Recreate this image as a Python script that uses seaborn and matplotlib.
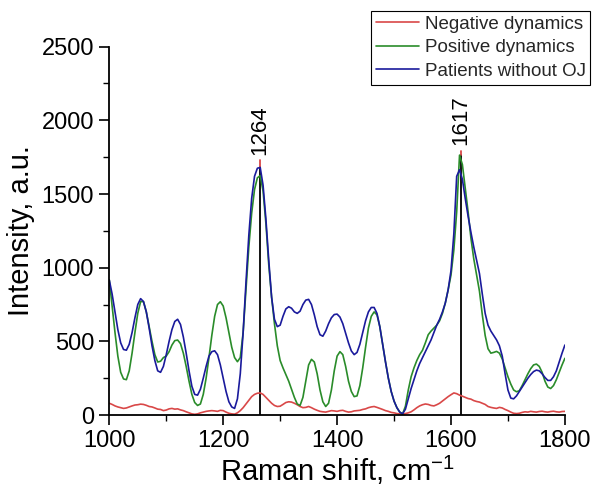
import numpy as np
import pandas as pd
import matplotlib
matplotlib.use("Agg")
import matplotlib.pyplot as plt
import seaborn as sns

# ---- data ----
raman_shift = np.arange(1000, 1801, 5)  # sampling grid, cm-1

negative = [80, 72, 62, 55, 50, 45, 48, 55, 62, 68,
            70, 74, 72, 66, 58, 55, 48, 40, 38, 30,
            34, 42, 45, 40, 42, 35, 30, 22, 15, 8,
            5, 8, 15, 20, 25, 28, 30, 28, 25, 32,
            30, 20, 12, 8, 6, 15, 30, 50, 75, 100,
            125, 140, 148, 150, 140, 120, 100, 80, 65, 58,
            60, 72, 85, 90, 88, 80, 70, 58, 50, 52,
            58, 50, 40, 32, 25, 22, 20, 25, 30, 28,
            25, 30, 32, 25, 20, 22, 28, 30, 32, 38,
            42, 50, 55, 58, 52, 45, 38, 30, 25, 18,
            15, 10, 8, 6, 10, 15, 22, 35, 50, 62,
            70, 75, 72, 65, 62, 70, 80, 95, 110, 125,
            138, 150, 145, 135, 128, 120, 112, 108, 98, 92,
            88, 80, 72, 58, 52, 48, 45, 52, 48, 38,
            30, 20, 12, 10, 12, 18, 22, 20, 25, 22,
            20, 24, 26, 22, 20, 24, 26, 22, 20, 24,
            25]

positive = [916, 740, 560, 400, 290, 245, 240, 300, 420, 560,
            690, 770, 770, 700, 600, 500, 410, 360, 365, 390,
            400, 430, 475, 505, 509, 485, 420, 330, 230, 140,
            85, 65, 75, 140, 250, 390, 540, 670, 750, 769,
            740, 660, 560, 460, 390, 362, 390, 560, 850, 1140,
            1370, 1530, 1610, 1625, 1520, 1300, 1020, 800, 620, 470,
            370, 320, 275, 230, 175, 120, 75, 65, 120, 230,
            340, 378, 360, 280, 170, 90, 58, 80, 170, 300,
            400, 430, 410, 330, 230, 160, 125, 130, 200, 320,
            460, 590, 670, 700, 680, 600, 480, 360, 250, 160,
            95, 50, 20, 8, 60, 170, 260, 320, 370, 410,
            440, 490, 545, 570, 590, 610, 640, 690, 760, 850,
            950, 1120, 1380, 1764, 1700, 1540, 1380, 1200, 1060, 950,
            840, 680, 540, 450, 420, 425, 432, 420, 380, 320,
            260, 210, 170, 158, 165, 200, 240, 280, 315, 340,
            346, 330, 290, 230, 190, 180, 200, 240, 290, 340,
            385]

without_oj = [916, 820, 700, 580, 490, 445, 440, 480, 560, 660,
              750, 790, 770, 700, 590, 470, 370, 300, 290, 330,
              410, 500, 580, 635, 650, 615, 530, 420, 300, 195,
              140, 135, 175, 250, 330, 400, 430, 436, 410, 340,
              250, 160, 90, 55, 45, 110, 280, 560, 900, 1220,
              1470, 1620, 1675, 1680, 1560, 1330, 1050, 800, 650, 600,
              610, 670, 720, 735, 725, 700, 690, 705, 750, 780,
              785, 750, 680, 600, 545, 535, 570, 620, 660, 682,
              685, 665, 620, 555, 490, 435, 410, 425, 480, 560,
              640, 700, 730, 730, 690, 600, 480, 360, 250, 160,
              95, 50, 20, 8, 40, 110, 180, 240, 300, 350,
              390, 430, 470, 510, 560, 610, 650, 700, 760, 850,
              980, 1230, 1620, 1665, 1600, 1470, 1350, 1240, 1140, 1050,
              960, 820, 690, 610, 570, 540, 510, 470, 400, 280,
              170, 115, 110, 130, 160, 190, 220, 250, 275, 295,
              305, 300, 280, 255, 235, 235, 260, 300, 360, 420,
              475]

series_names = ["Negative dynamics", "Positive dynamics", "Patients without OJ"]
peak_positions = [1264, 1617]
peak_heights = [1680, 1764]
peak_tips = [1730, 1795]
peak_labels = ["1264", "1617"]

colors = ["#d94848", "#2a8c2a", "#1a1a9c"]

# ---- figure ----
sns.set_theme(style="ticks")
plt.rcParams["font.family"] = ["Liberation Sans", "DejaVu Sans"]

fig = plt.figure(figsize=(5.94, 4.86), dpi=100)
ax = fig.add_axes([0.184, 0.146, 0.767, 0.758])

for name, vals, c in zip(series_names, [negative, positive, without_oj], colors):
    sns.lineplot(x=raman_shift, y=vals, ax=ax, color=c, linewidth=1.2,
                 sort=False, estimator=None, legend=False)

for px, ph, pt, lab in zip(peak_positions, peak_heights, peak_tips, peak_labels):
    ax.plot([px, px], [0, ph], color="black", linewidth=1.3, zorder=1)
    ax.plot([px, px], [ph, pt], color=colors[0], linewidth=1.3, zorder=1)
    ax.text(px, pt + 35, lab, rotation=90, ha="center", va="bottom",
            fontsize=16, color="black")

ax.set_xlim(1000, 1800)
ax.set_ylim(0, 2500)
ax.set_xticks([1000, 1200, 1400, 1600, 1800])
ax.set_xticks([1100, 1300, 1500, 1700], minor=True)
ax.set_yticks([0, 500, 1000, 1500, 2000, 2500])
ax.set_yticks([250, 750, 1250, 1750, 2250], minor=True)
ax.tick_params(axis="both", which="major", direction="out", length=7,
               width=1.2, labelsize=17, color="black", labelcolor="black", pad=4)
ax.tick_params(axis="both", which="minor", direction="out", length=4,
               width=1.0, color="black")
for s in ["top", "right"]:
    ax.spines[s].set_visible(False)
for s in ["left", "bottom"]:
    ax.spines[s].set_color("black")
    ax.spines[s].set_linewidth(1.3)

ax.set_xlabel("Raman shift, cm$^{\\mathregular{-1}}$", fontsize=21,
              color="black", labelpad=1)
ax.set_ylabel("Intensity, a.u.", fontsize=21, color="black", labelpad=5)

handles = [plt.Line2D([], [], color=c, linewidth=1.2) for c in colors]
leg = fig.legend(handles, series_names, loc="upper right",
                 bbox_to_anchor=(0.994, 0.978), fontsize=13.5, frameon=True,
                 fancybox=False, edgecolor="black", framealpha=1,
                 handlelength=2.3, handletextpad=0.3, labelspacing=0.35,
                 borderpad=0.25, borderaxespad=0)
leg.get_frame().set_linewidth(0.8)

fig.savefig("out.png", dpi=100)
